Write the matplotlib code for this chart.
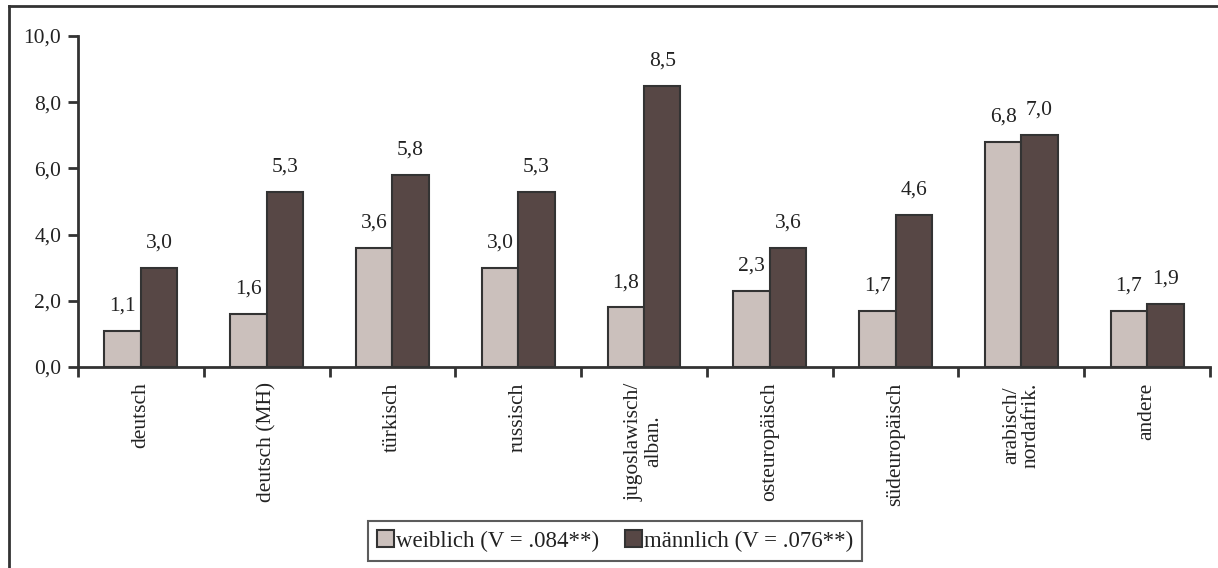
import matplotlib.pyplot as plt
import numpy as np

categories = ["deutsch", "deutsch (MH)", "türkisch", "russisch", "jugoslawisch/\nalban.",
              "osteuropäisch", "südeuropäisch", "arabisch/\nnordafrik.", "andere"]
weiblich = [1.1, 1.6, 3.6, 3.0, 1.8, 2.3, 1.7, 6.8, 1.7]
maennlich = [3.0, 5.3, 5.8, 5.3, 8.5, 3.6, 4.6, 7.0, 1.9]
y_ticks = [0, 2, 4, 6, 8, 10]

plt.rcParams['font.family'] = ['Liberation Serif', 'DejaVu Serif']
edge = '#333333'
txt = '#222222'
fs = 15.5

fig = plt.figure(figsize=(12.18, 5.68), dpi=100)
ax = fig.add_axes([78/1218, 1-367/568, (1210-78)/1218, (367-36)/568])

x = np.arange(len(categories))
w = 0.29
b1 = ax.bar(x - w/2, weiblich, w, color='#cbc0bc', edgecolor=edge, linewidth=1.5,
            label='weiblich (V = .084**)')
b2 = ax.bar(x + w/2, maennlich, w, color='#574745', edgecolor=edge, linewidth=1.5,
            label='männlich (V = .076**)')

for bars, vals in [(b1, weiblich), (b2, maennlich)]:
    for r, v in zip(bars, vals):
        ax.annotate(f"{v:.1f}".replace('.', ','), (r.get_x() + r.get_width()/2, v),
                    xytext=(0, 11), textcoords='offset points', ha='center', va='bottom',
                    fontsize=fs, color=txt)

ax.set_xlim(-0.5, len(categories) - 0.5)
ax.set_ylim(0, 10)
ax.set_yticks(y_ticks)
ax.set_yticklabels([f"{t:.1f}".replace('.', ',') for t in y_ticks], fontsize=fs, color=txt)
ax.set_xticks(np.arange(len(categories) + 1) - 0.5)
ax.set_xticklabels([])
ax.set_xticks(x, minor=True)
ax.set_xticklabels(categories, minor=True, rotation=90, fontsize=fs, va='top', ha='center',
                   color=txt, linespacing=1.0)
ax.tick_params(axis='x', which='minor', length=0, pad=11)
ax.tick_params(axis='x', which='major', direction='out', length=7, width=2, color=edge)
ax.tick_params(axis='y', direction='out', length=7, width=2, color=edge, pad=5)

for s in ['top', 'right']:
    ax.spines[s].set_visible(False)
for s in ['left', 'bottom']:
    ax.spines[s].set_color(edge)
    ax.spines[s].set_linewidth(2)

leg = fig.legend(loc='center', bbox_to_anchor=(615/1218, 1-541/568), ncol=2, fontsize=16.5,
                 frameon=True, fancybox=False, edgecolor=edge, handlelength=0.75,
                 handleheight=0.75, handletextpad=0.1, columnspacing=1.1, borderpad=0.4,
                 labelcolor=txt)
leg.get_frame().set_linewidth(1.5)

# figure border (left and top)
fig.add_artist(plt.Line2D([9/1218, 9/1218], [0, 1-6/568], transform=fig.transFigure,
                          color=edge, linewidth=2))
fig.add_artist(plt.Line2D([9/1218, 1], [1-6/568, 1-6/568], transform=fig.transFigure,
                          color=edge, linewidth=2))

fig.savefig('out.png', dpi=100)
